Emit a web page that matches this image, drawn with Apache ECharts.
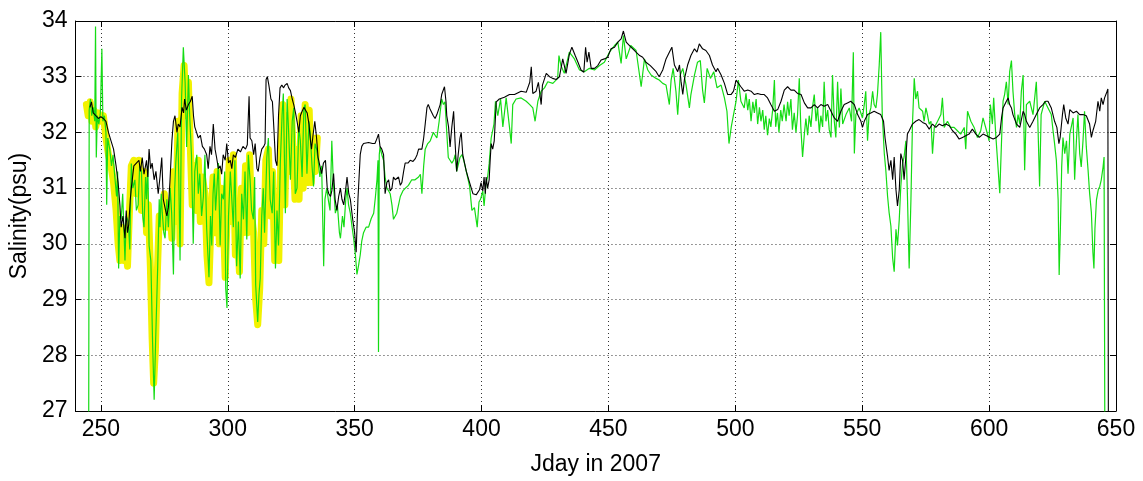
<!DOCTYPE html>
<html>
<head>
<meta charset="utf-8">
<script src="https://cdn.jsdelivr.net/npm/echarts@6/dist/echarts.min.js"></script>
<style>
html,body{margin:0;padding:0;background:#fff;}
#chart{width:1143px;height:481px;}
</style>
</head>
<body>
<div id="chart"></div>
<script>
var xTicks = [250, 300, 350, 400, 450, 500, 550, 600, 650];
var yTicks = [27, 28, 29, 30, 31, 32, 33, 34];

var yellowData = [
[244.3,32.5],[245,32.3],[245.8,32.55],[246.5,32.2],[247.3,32.4],[248,32.1],[249,32.35],[250,32.2],[251,32.3],[252,31.9],
[253,31.6],[254,31.4],[255,31.1],[256,30.6],[256.8,30.0],[257.5,29.7],[258.3,30.3],[259,29.7],[259.8,30.0],[260.5,29.6],
[261.2,30.5],[262,31.4],[263,31.5],[264,30.9],[265,31.5],[266,30.6],[267,31.3],[268,30.2],[268.7,30.7],[269.5,29.6],
[270.2,28.3],[270.8,27.5],[271.5,28.1],[272.2,29.4],[273,30.5],[274,30.3],[275,30.9],[276,30.3],[277,30.7],[278,30.1],
[278.8,31.3],[279.6,30.4],[280.4,32.2],[281.2,30.0],[282,32.7],[282.8,33.2],[283.6,32.3],[284.5,32.9],[285.2,31.8],[286,30.7],
[286.8,31.4],[287.6,30.6],[288.4,31.5],[289.2,30.4],[290,31.2],[291,30.9],[291.8,29.8],[292.6,29.3],[293.4,30.4],[294.2,31.2],
[295,30.2],[295.8,31.3],[296.7,30.0],[297.5,31.0],[298.3,30.4],[299,29.4],[299.8,30.6],[300.6,31.5],[301.4,30.4],[302.2,31.6],
[303,29.8],[303.8,30.2],[304.6,29.5],[305.4,31.0],[306.2,30.2],[307,31.4],[307.8,30.2],[308.6,31.6],[309.4,30.5],[310.2,30.2],
[311,29.0],[311.8,28.55],[312.6,29.2],[313.4,30.6],[314.2,30.0],[315,31.5],[316,31.7],[316.8,30.5],[317.6,31.3],[318.5,29.7],
[319.3,30.2],[320.1,29.7],[320.9,31.6],[321.7,32.5],[322.5,30.7],[323.3,32.3],[324.1,31.3],[324.9,32.6],[325.7,31.7],[326.5,30.8],
[327.3,31.7],[328.1,30.8],[328.9,32.3],[329.7,31.0],[330.5,32.5],[331.3,31.1],[332.1,32.4],[332.9,31.1],[333.7,31.9],[334.5,31.3],
[335.3,31.9]
];

var greenData = [
[245.2,26.5],[245.4,32.4],[245.9,32.6],[246.4,32.3],[247,32.45],[247.6,32.2],[247.9,33.9],[248.2,31.55],[248.6,32.3],[249.2,32.15],
[249.8,32.35],[250.4,33.5],[250.8,32.2],[251.4,32.3],[252,32.0],[252.3,30.7],[252.7,31.9],[253.5,31.7],[254.2,31.4],[254.8,31.6],
[255.5,31.2],[256.2,30.85],[256.6,31.3],[257,29.56],[257.5,30.5],[258,30.44],[258.6,30.9],[259.5,29.7],[260,30.5],[260.8,30.4],
[261.4,29.9],[262,31.44],[262.6,31.0],[263.4,31.15],[264,30.6],[264.7,30.7],[265.3,31.4],[266,31.3],[266.5,30.5],[267,30.3],
[267.6,31.2],[268,30.8],[268.5,31.4],[269,29.97],[269.7,29.7],[270.4,28.2],[271,27.2],[271.6,28.3],[272.4,29.6],[273,30.8],
[273.3,30.3],[273.8,30.9],[274.2,30.56],[274.8,30.2],[275.3,30.1],[276,30.8],[276.6,30.3],[277.3,31.0],[277.9,30.55],[278.6,29.45],
[279.1,31.0],[279.5,31.44],[280.3,32.0],[280.7,31.2],[281.2,29.7],[281.8,32.6],[282.5,33.53],[283.2,32.9],[283.8,31.74],[284.5,33.03],
[285,32.3],[285.7,31.6],[286.4,30.0],[287,31.3],[287.8,31.6],[288.4,30.9],[289,31.26],[289.7,30.5],[290.4,30.85],[291,31.6],
[291.7,30.27],[292.6,29.4],[293.2,30.5],[293.7,29.97],[294.2,30.9],[294.7,31.26],[295.2,30.6],[295.6,30.9],[296.3,31.45],[297,29.97],
[297.6,30.9],[298.3,30.8],[298.8,31.3],[299.2,29.2],[299.7,28.85],[300.3,30.5],[301,31.3],[301.6,30.8],[302.2,30.3],[302.8,31.5],
[303.5,29.6],[304.2,30.4],[304.9,29.38],[305.5,30.9],[306.2,30.44],[306.8,31.3],[307.5,30.08],[308.1,31.6],[308.8,31.15],[309.4,30.6],
[310.1,30.44],[310.6,31.2],[311,29.26],[311.8,28.6],[312.3,29.1],[312.8,29.38],[313.4,30.5],[314,31.0],[314.5,30.2],[315.4,31.55],
[316,31.9],[316.7,30.8],[317.5,30.55],[318.1,31.3],[318.8,29.56],[319.4,30.6],[320,29.97],[320.7,31.44],[321.4,32.3],[321.9,32.7],
[322.7,30.55],[323.4,32.6],[324,32.0],[324.7,31.15],[325.4,32.2],[326,32.44],[326.6,30.9],[327.3,31.0],[328,32.1],[328.6,31.85],
[329.3,31.2],[330,32.44],[330.5,32.5],[331.2,31.26],[332,32.2],[332.5,31.97],[333.2,31.4],[333.8,31.03],[334.4,31.8],[335,31.7],
[335.6,31.5],[336.3,31.2],[337,31.4],[337.8,29.6],[338.3,30.8],[339,31.0],[339.6,30.8],[340.3,30.6],[341,31.85],[341.6,31.1],
[342.4,30.55],[343.2,30.7],[344,30.2],[344.4,30.1],[345.2,30.5],[345.8,30.3],[346.5,30.8],[347,31.0],[347.6,30.7],[348.3,30.55],
[349,30.3],[349.6,30.1],[350.3,29.8],[350.9,29.45],[351.5,29.6],[352.2,29.8],[352.8,30.05],[353.5,30.2],[354.5,30.3],[355.5,30.3],
[356.5,30.45],[357.5,30.55],[358.2,30.85],[358.8,31.15],[359.2,31.5],[359.4,28.06],[359.7,31.6],[360,31.74],[360.7,31.6],[361.4,31.5],
[362,31.2],[362.7,31.0],[363.4,30.95],[364,30.9],[364.7,30.7],[365.3,30.44],[366,30.5],[366.6,30.55],[367.3,30.7],[368,30.85],
[369,30.95],[370,31.0],[371.2,31.05],[372.5,31.15],[373.8,31.15],[375.2,31.2],[375.9,31.25],[376.5,30.9],[377.2,31.4],[377.8,31.7],
[378.8,31.8],[379.8,31.85],[381,32.0],[381.7,31.95],[382.4,31.9],[383.3,32.2],[384.3,32.6],[385,32.5],[385.6,32.55],[386.3,32.0],
[386.9,31.55],[387.6,31.5],[388.3,31.45],[389,31.5],[389.6,31.6],[390.2,31.3],[390.9,31.3],[391.5,31.55],[392.3,31.6],[393,31.5],
[394,31.3],[395.3,31.03],[396.2,30.6],[397.2,30.65],[398.3,30.3],[399,30.75],[399.6,30.8],[400.5,30.95],[401,30.68],[401.8,31.1],
[402.4,31.2],[403,31.44],[403.8,31.9],[404.9,32.15],[405.5,32.56],[406.4,32.3],[407.5,32.6],[408.4,32.1],[409.7,32.62],[411,32.1],
[411.7,31.8],[412.3,32.5],[413.6,32.6],[415.6,32.62],[417.6,32.56],[419,32.5],[420.2,32.44],[421.1,32.2],[422.2,32.56],[423.5,32.74],
[424.8,32.8],[426.1,32.91],[428.1,32.88],[430,32.97],[430.5,33.38],[431.3,33.2],[432.6,33.06],[434.6,33.44],[436.6,33.32],[438.6,33.12],
[440.5,33.09],[442.5,33.15],[444.5,33.12],[446.5,33.2],[448.4,33.26],[450.4,33.44],[452.4,33.56],[453.7,33.62],[455,33.24],[455.9,33.74],
[457,33.32],[458.8,33.56],[460.9,33.47],[462.9,32.82],[464.2,33.32],[465.5,33.12],[466.8,33.03],[468.8,32.97],[470,32.94],[471.4,32.88],
[472.7,32.85],[474,32.5],[474.7,32.94],[475.5,33.15],[476.6,32.74],[477.3,32.32],[478.3,33.03],[479.3,33.15],[480.6,32.85],[481.9,32.44],
[482.5,32.68],[483.9,33.03],[485.1,33.26],[486.2,33.29],[487.1,32.76],[487.8,32.53],[488.9,33.15],[490.2,32.97],[491.5,33.09],[492.8,32.8],
[494.4,32.85],[495.7,32.62],[496.7,32.38],[497.5,31.8],[498.4,32.1],[499.3,32.32],[500.3,32.56],[501.2,32.94],[502.2,32.56],[503.5,32.44],
[504.2,32.7],[504.9,32.4],[505.5,32.6],[506.2,32.2],[506.9,32.55],[507.5,32.35],[508.2,32.6],[508.8,32.15],[509.5,32.45],[510.1,32.2],
[510.8,32.4],[511.4,32.05],[512,32.3],[512.7,31.95],[513.4,32.25],[514,32.1],[514.7,32.4],[515.4,32.94],[515.9,32.1],[516.6,32.35],
[517.2,32.0],[517.9,32.4],[518.5,32.2],[519.2,32.5],[520,32.2],[520.6,32.55],[521.2,32.3],[521.9,32.6],[522.5,32.05],[523.2,32.35],
[523.9,32.0],[524.5,32.3],[525.2,32.97],[525.8,32.1],[526.5,31.56],[527.2,31.97],[527.8,32.25],[528.5,31.95],[529.1,32.3],[529.8,32.1],
[530.4,32.45],[531.1,32.68],[531.8,32.2],[532.4,32.45],[533.1,32.0],[533.7,32.3],[534.4,32.1],[535,32.91],[535.7,32.2],[536.4,32.4],
[537,32.05],[537.7,31.91],[538.3,33.03],[539,32.2],[539.6,31.91],[540.3,32.91],[541,32.09],[541.6,32.79],[542.3,32.15],[543.6,32.32],
[544.9,32.44],[545.8,32.2],[546.5,33.44],[546.9,31.62],[547.5,32.32],[548.8,32.44],[550.1,32.26],[550.8,32.5],[551.4,32.74],[552.1,31.85],
[552.7,32.32],[553.4,32.44],[554.1,32.74],[554.7,32.5],[555.4,32.44],[556,32.68],[556.7,33.21],[557.3,33.8],[557.9,32.32],[558.7,31.62],
[559.3,31.32],[560,30.85],[560.6,30.56],[561.3,30.32],[562,29.74],[562.6,29.5],[563.3,30.26],[563.9,29.97],[564.6,30.44],[565.2,31.03],
[565.9,31.44],[566.5,31.56],[567.2,31.85],[567.8,30.9],[568.5,29.56],[569.2,30.8],[569.8,32.15],[570.5,32.97],[571.1,32.6],[571.8,32.74],
[572.4,32.44],[573.8,32.38],[574.4,32.2],[575.1,32.44],[575.7,32.32],[576.4,32.15],[577.1,32.2],[577.7,31.62],[578.4,32.09],[579.7,32.2],
[581,32.32],[581.6,32.62],[582.3,32.09],[583.6,32.2],[584.9,32.09],[586.2,32.09],[587.5,32.03],[588.8,31.97],[590.2,32.09],[590.8,31.7],
[591.5,32.38],[592.8,32.2],[594.1,32.09],[595.4,31.91],[596.7,32.03],[597.6,32.26],[599,32.03],[600,31.85],[600.5,32.5],[601.3,32.15],
[601.8,32.62],[602.6,31.97],[603.5,31.38],[604.2,30.91],[604.9,31.85],[605.5,32.56],[606.1,32.68],[606.8,32.91],[607.5,32.5],[608.1,33.09],
[608.8,33.29],[609.4,32.74],[610.1,32.32],[610.8,32.09],[611.4,32.32],[612.1,32.15],[612.7,32.74],[613.4,33.03],[614,31.32],[614.7,32.5],
[616,32.56],[617.3,32.32],[618.6,32.91],[619.2,32.2],[619.9,31.03],[620.5,32.32],[621.9,32.56],[623.2,32.44],[624.5,32.32],[625.2,32.03],
[625.8,31.8],[626.5,31.5],[627.2,30.79],[627.6,29.44],[628.1,30.3],[628.6,31.38],[629.1,31.91],[629.8,31.62],[630.5,31.85],[631.1,31.26],
[631.8,31.97],[633.1,32.26],[633.7,31.15],[634.4,31.85],[635,32.32],[635.7,31.62],[636.3,31.38],[637,31.85],[637.6,32.38],[638.3,31.74],
[639,31.32],[639.6,30.91],[640.3,30.56],[640.9,29.85],[641.3,29.56],[641.7,30.27],[642.3,30.79],[643,30.97],[643.6,31.03],[644.2,31.15],
[644.9,31.38],[645.3,31.56],[645.6,26.5]
];

var blackData = [
[245.7,32.45],[246.3,32.55],[247,32.35],[248,32.3],[249,32.25],[250,32.28],[251,32.25],[252,32.2],[253,32.0],[254,31.85],
[255,31.7],[256,31.4],[256.8,31.1],[257.5,30.7],[258,30.3],[258.7,30.5],[259.5,30.1],[260,30.6],[260.5,30.2],[261,30.35],
[261.6,30.8],[262,31.0],[263,31.4],[264,31.45],[265,31.5],[265.6,31.3],[266.3,31.55],[267,31.25],[268,31.5],[268.5,31.2],
[269,31.7],[269.6,31.35],[270.2,31.45],[271,31.15],[271.7,31.3],[272.6,30.9],[273.3,31.2],[274,31.55],[274.6,30.8],[275.5,30.6],
[276,30.5],[276.6,30.65],[277.2,31.1],[278,31.85],[278.6,32.2],[279.2,32.3],[280,32.0],[280.5,32.15],[281.2,32.1],[282,32.45],
[282.6,32.35],[283,32.6],[283.7,32.4],[284.5,32.5],[285.2,32.55],[286,32.65],[286.5,32.3],[287,32.1],[287.7,32.0],[288.4,31.9],
[289.2,31.95],[290,31.75],[290.8,31.7],[291.7,31.6],[292.3,31.35],[293,31.75],[293.6,31.6],[294.3,32.15],[295,31.7],[295.6,31.55],
[296.3,31.35],[297,31.4],[297.6,31.25],[298.2,31.6],[299,31.5],[299.6,31.8],[300.3,31.45],[301,31.5],[301.6,31.35],[302.2,31.6],
[303,31.55],[304,31.7],[305,31.65],[306,31.75],[307,31.7],[307.7,31.78],[308.4,32.65],[308.8,31.9],[309.5,31.85],[310.2,31.6],
[310.8,31.8],[311.5,31.35],[312,31.3],[312.7,31.55],[313.4,31.7],[314.2,31.75],[314.7,31.8],[315.1,32.95],[315.6,33.0],[316.2,32.85],
[317,32.6],[317.6,32.55],[318.2,32.05],[318.8,31.5],[319.4,31.4],[320,32.3],[320.6,32.8],[321.3,32.85],[322,32.8],[322.6,32.85],
[323.4,32.88],[324,32.8],[324.7,32.75],[325.4,32.6],[326,32.5],[326.7,32.35],[327.3,32.2],[328,32.0],[328.6,32.3],[329.3,32.38],
[330,32.45],[330.6,32.47],[331.3,32.35],[332,32.15],[332.6,31.85],[333,31.7],[333.6,31.95],[334.3,32.2],[335,31.9],[335.6,31.55],
[336.3,31.4],[337,31.26],[337.7,31.45],[338.5,31.5],[339.2,31.0],[339.8,30.9],[340.5,30.85],[341,30.95],[341.7,31.26],[342.3,30.8],
[343,30.6],[343.7,30.85],[344.4,31.0],[345,30.8],[345.7,30.7],[346.4,30.95],[347,31.2],[347.7,30.9],[348.3,30.8],[349.2,30.45],
[350,30.2],[350.6,29.85],[351.3,30.8],[352.2,31.6],[352.8,31.75],[353.5,31.8],[355.5,31.82],[357,31.8],[358,31.8],[358.7,31.88],
[359.4,31.97],[360,31.75],[360.7,31.7],[361.4,31.6],[362,30.9],[362.7,31.1],[363.4,31.15],[364,30.95],[364.7,31.0],[365.3,31.2],
[366,31.15],[367.3,31.2],[368,31.05],[368.6,31.1],[369.3,31.3],[369.9,31.45],[371,31.45],[371.9,31.5],[373,31.48],[373.9,31.53],
[374.6,31.6],[375.2,31.7],[376.5,31.7],[377.2,31.9],[377.8,32.15],[378.5,32.45],[379,32.5],[379.7,32.42],[380.4,32.4],[381,32.3],
[381.7,32.25],[382.4,32.32],[383,32.3],[383.7,32.5],[384.3,32.68],[385,32.7],[385.4,32.82],[386,32.55],[386.3,32.3],[387,32.1],
[387.6,31.74],[388.3,32.1],[389,32.38],[389.6,31.8],[390.2,31.3],[390.8,31.6],[391.5,31.9],[392,32.0],[392.6,31.6],[393.3,31.45],
[394,31.3],[395.3,31.1],[396.6,30.9],[397.9,30.88],[399.2,30.97],[399.8,31.1],[400.5,30.95],[401,31.2],[401.5,30.9],[401.8,31.2],
[402.4,31.0],[403,31.15],[403.4,31.5],[403.8,31.8],[404.4,31.7],[405,31.85],[405.8,32.55],[407,32.6],[409,32.63],[411,32.68],
[413,32.68],[415.6,32.74],[417.6,32.72],[419,32.9],[419.6,33.18],[420.2,32.7],[421.5,32.74],[422.4,32.9],[423.5,32.5],[424,32.85],
[425.5,33.06],[426.8,33.0],[428,32.97],[429.4,32.95],[430.7,33.0],[432,33.32],[433.3,33.06],[434.6,33.4],[435.6,33.53],[436.9,33.38],
[438,33.26],[439.2,33.12],[440.3,33.08],[441,33.53],[441.6,33.26],[442.3,33.44],[443.2,33.15],[444.5,33.15],[445.8,33.2],[447.1,33.3],
[448.4,33.32],[449.7,33.35],[451,33.5],[452.4,33.53],[453.7,33.62],[455,33.68],[455.9,33.82],[457,33.62],[458.3,33.56],[459.6,33.5],
[460.9,33.44],[462.3,33.38],[463.5,33.35],[464.8,33.26],[466.5,33.2],[468.8,33.09],[470,33.0],[471.4,33.12],[472.7,33.32],[474,33.44],
[475,33.53],[476,33.21],[477.3,33.09],[478,33.21],[478.6,32.92],[479.3,32.68],[480,32.97],[481.2,33.21],[482.5,33.38],[483.9,33.5],
[484.9,33.44],[485.8,33.59],[487.1,33.5],[488.4,33.47],[489.8,33.38],[491,33.21],[492.4,33.09],[493,33.15],[494.4,33.03],[495.7,32.88],
[497,32.68],[498.3,32.68],[499.3,32.74],[500.3,32.94],[500.9,32.91],[502.2,32.82],[503.5,32.74],[504.9,32.76],[506.2,32.74],[507.5,32.68],
[508.8,32.7],[510.1,32.68],[511.4,32.68],[512.7,32.62],[514,32.5],[515.4,32.38],[516.7,32.41],[518,32.56],[519.3,32.76],[520.6,32.82],
[521.9,32.76],[523.2,32.76],[524.5,32.7],[525.9,32.68],[527.2,32.53],[528.5,32.44],[529.8,32.44],[531.1,32.5],[532.4,32.44],[533.7,32.5],
[535,32.47],[536.4,32.5],[537.7,32.38],[539,32.26],[540.3,32.2],[541.6,32.38],[542.9,32.5],[544.2,32.53],[545.5,32.56],[546.9,32.5],
[548.2,32.32],[549.5,32.2],[550.1,32.09],[550.8,32.2],[552.1,32.32],[553.4,32.35],[554.7,32.38],[556,32.35],[557.3,32.32],[558.4,32.2],
[559,31.9],[560,31.56],[560.6,31.32],[561.3,31.5],[562,31.15],[562.6,31.56],[563.3,30.97],[563.9,30.68],[564.6,30.97],[565.2,31.62],
[565.9,31.5],[566.5,31.15],[567.2,31.56],[567.8,31.97],[568.5,32.03],[569.8,32.15],[571.1,32.2],[572.4,32.23],[573.8,32.18],[575.1,32.15],
[576.4,32.06],[577.7,32.15],[579,32.09],[580.3,32.15],[581.6,32.12],[582.9,32.15],[584.3,32.12],[585.6,32.03],[586.9,31.97],[588.2,31.88],
[589.5,31.91],[590.8,31.94],[592.1,31.97],[593.4,32.06],[594.8,31.97],[596.1,31.91],[597.6,31.97],[599,31.94],[600.3,31.91],[601.6,31.88],
[602.9,31.91],[604.2,31.97],[604.9,32.26],[605.5,32.44],[606.8,32.56],[607.5,32.62],[608.1,32.5],[608.8,32.44],[609.4,32.32],[610.8,32.15],
[612.1,32.09],[613.4,32.38],[614,32.32],[614.7,32.2],[616,32.09],[617.3,32.2],[618.6,32.32],[619.9,32.44],[621.2,32.5],[622.3,32.56],
[623.2,32.56],[624.5,32.44],[625.8,32.2],[626.7,32.09],[627.5,31.8],[628,31.91],[628.9,32.32],[629.4,32.5],[630.2,32.26],[631.1,32.15],
[631.8,32.41],[633.1,32.35],[634.4,32.38],[635.7,32.32],[637,32.32],[638.3,32.3],[639.6,32.15],[640.3,31.91],[640.9,32.03],[642,32.2],
[642.9,32.56],[643.6,32.38],[644.2,32.62],[644.9,32.5],[645.5,32.62],[646.5,32.74],[646.8,32.78],[647,26.5]
];

var chart = echarts.init(document.getElementById('chart'), null, {renderer: 'canvas'});
var fontFam = '"Liberation Sans", Arial, sans-serif';
var dotted = {color: '#333', width: 1, type: [1, 3]};

chart.setOption({
  animation: false,
  backgroundColor: '#ffffff',
  grid: {left: 73, right: 27, top: 21, bottom: 66, containLabel: false},
  xAxis: [{
    type: 'value', min: 240, max: 650, splitNumber: 8, minInterval: 50, maxInterval: 50,
    name: 'Jday in 2007', nameLocation: 'middle', nameGap: 42,
    nameTextStyle: {fontFamily: fontFam, fontSize: 23, color: '#000'},
    axisLine: {show: true, lineStyle: {color: '#000', width: 1}},
    axisTick: {show: true, inside: true, length: 6, lineStyle: {color: '#000'}},
    axisLabel: {
      fontFamily: fontFam, fontSize: 23, color: '#000', margin: 7,
      formatter: function (v) { return xTicks.indexOf(v) >= 0 ? String(v) : ''; }
    },
    splitLine: {show: true, lineStyle: dotted}
  }, {
    type: 'value', min: 240, max: 650, splitNumber: 8, minInterval: 50, maxInterval: 50,
    position: 'top',
    axisLine: {show: true, lineStyle: {color: '#000', width: 1}},
    axisTick: {show: true, inside: true, length: 6, lineStyle: {color: '#000'}},
    axisLabel: {show: false},
    splitLine: {show: false}
  }],
  yAxis: [{
    type: 'value', min: 27, max: 34, interval: 1,
    name: 'Salinity(psu)', nameLocation: 'middle', nameGap: 36, nameRotate: 90,
    nameTextStyle: {fontFamily: fontFam, fontSize: 23, color: '#000'},
    axisLine: {show: true, lineStyle: {color: '#000', width: 1}},
    axisTick: {show: true, inside: true, length: 6, lineStyle: {color: '#000'}},
    axisLabel: {
      fontFamily: fontFam, fontSize: 23, color: '#000', margin: 8,
      formatter: function (v) { return yTicks.indexOf(v) >= 0 ? String(v) : ''; }
    },
    splitLine: {show: true, lineStyle: dotted}
  }, {
    type: 'value', min: 27, max: 34, interval: 1, position: 'right',
    axisLine: {show: true, lineStyle: {color: '#000', width: 1}},
    axisTick: {show: true, inside: true, length: 6, lineStyle: {color: '#000'}},
    axisLabel: {show: false},
    splitLine: {show: false}
  }],
  series: [{
    name: 'yellow', type: 'line', data: yellowData, showSymbol: false, symbol: 'none',
    clip: true, z: 1,
    lineStyle: {color: '#f2f200', width: 7, join: 'round', cap: 'round'}
  }, {
    name: 'green', type: 'line', data: greenData, showSymbol: false, symbol: 'none',
    clip: true, z: 2,
    lineStyle: {color: '#14dc14', width: 1.2}
  }, {
    name: 'black', type: 'line', data: blackData, showSymbol: false, symbol: 'none',
    clip: true, z: 3,
    lineStyle: {color: '#000', width: 1.1}
  }]
});
</script>
</body>
</html>
